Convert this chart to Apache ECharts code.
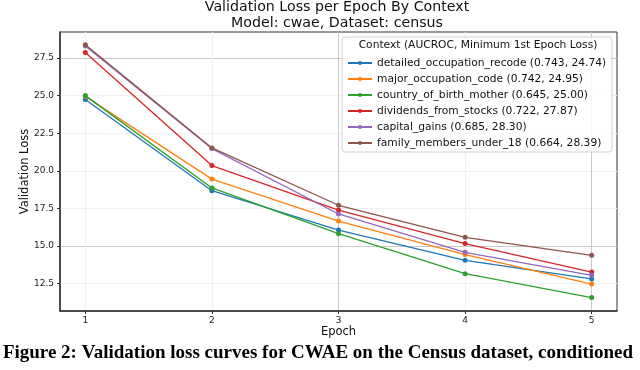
<!DOCTYPE html>
<html>
<head>
<meta charset="utf-8">
<script src="https://cdn.jsdelivr.net/npm/echarts@6/dist/echarts.min.js"></script>
<style>
  html, body { margin: 0; padding: 0; background: #fff; }
  #chart { width: 640px; height: 370px; }
</style>
</head>
<body>
<div id="chart"></div>
<script>
// epochs and per-context validation loss
const epochs = [1, 2, 3, 4, 5]
const contextNames = [
  'detailed_occupation_recode (0.743, 24.74)',
  'major_occupation_code (0.742, 24.95)',
  'country_of_birth_mother (0.645, 25.00)',
  'dividends_from_stocks (0.722, 27.87)',
  'capital_gains (0.685, 28.30)',
  'family_members_under_18 (0.664, 28.39)'
]
const detailedOccupation = [24.74, 18.68, 16.06, 14.05, 12.81]
const majorOccupation = [24.95, 19.45, 16.66, 14.43, 12.47]
const countryOfBirth = [25.00, 18.86, 15.82, 13.16, 11.57]
const dividends = [27.87, 20.35, 17.39, 15.16, 13.27]
const capitalGains = [28.30, 21.48, 17.13, 14.58, 13.05]
const familyMembers = [28.39, 21.52, 17.71, 15.58, 14.38]
const yTicks = [12.5, 15.0, 17.5, 20.0, 22.5, 25.0, 27.5]

const allSeries = [detailedOccupation, majorOccupation, countryOfBirth, dividends, capitalGains, familyMembers]
const colors = ['#1f77b4', '#ff7f0e', '#2ca02c', '#d62728', '#9467bd', '#8c564b']
const font = 'DejaVu Sans'

const chart = echarts.init(document.getElementById('chart'))
chart.setOption({
  backgroundColor: '#fff',
  animation: false,
  color: colors,
  textStyle: { fontFamily: font },
  title: {
    text: 'Validation Loss per Epoch By Context\nModel: cwae, Dataset: census',
    left: 337,
    textAlign: 'center',
    top: -1,
    padding: 0,
    textStyle: { fontFamily: font, fontSize: 14.2, fontWeight: 'normal', color: '#111', lineHeight: 16 }
  },
  grid: {
    left: 60, right: 23, top: 32, bottom: 59,
    show: true, borderColor: '#333', borderWidth: 1
  },
  xAxis: {
    type: 'value',
    min: 0.8,
    max: 5.2,
    name: 'Epoch',
    nameLocation: 'middle',
    nameGap: 15,
    nameMoveOverlap: false,
    nameTextStyle: { fontFamily: font, fontSize: 11.5, color: '#111' },
    axisLine: { lineStyle: { color: '#333', width: 1.5 } },
    axisTick: { customValues: epochs, length: 3, lineStyle: { color: '#333' } },
    axisLabel: { customValues: epochs, fontFamily: font, fontSize: 9, color: '#222', margin: 5 },
    splitLine: { show: true, lineStyle: { color: ['#f0f0f0', '#f0f0f0', '#c8c8c8', '#f0f0f0', '#c8c8c8'], width: 1 } }
  },
  yAxis: {
    type: 'value',
    min: 10.68,
    max: 29.23,
    name: 'Validation Loss',
    nameLocation: 'middle',
    nameGap: 29,
    nameMoveOverlap: false,
    nameTextStyle: { fontFamily: font, fontSize: 11.5, color: '#111' },
    axisLine: { show: true, lineStyle: { color: '#333', width: 1.5 } },
    axisTick: { show: true, customValues: yTicks, length: 3, lineStyle: { color: '#333' } },
    axisLabel: {
      customValues: yTicks, fontFamily: font, fontSize: 9, color: '#222', margin: 6,
      formatter: v => v.toFixed(1)
    },
    splitLine: { show: true, lineStyle: { color: ['#f0f0f0', '#c8c8c8', '#f0f0f0', '#f0f0f0', '#f0f0f0', '#f0f0f0', '#c8c8c8'], width: 1 } }
  },
  legend: {
    orient: 'vertical',
    left: 347,
    top: 57,
    z: 11,
    itemWidth: 24,
    itemHeight: 5,
    itemGap: 4,
    padding: 0,
    textStyle: { fontFamily: font, fontSize: 10.7, color: '#111', lineHeight: 12 },
    data: contextNames
  },
  graphic: [
    {
      type: 'rect',
      z: 10,
      shape: { x: 342, y: 37, width: 270, height: 115, r: 3 },
      style: { fill: 'rgba(255,255,255,0.85)', stroke: '#d0d0d0', lineWidth: 1 }
    },
    {
      type: 'text',
      z: 11,
      x: 478,
      y: 45,
      style: {
        text: 'Context (AUCROC, Minimum 1st Epoch Loss)',
        font: '10.7px "DejaVu Sans"',
        fill: '#111',
        align: 'center',
        verticalAlign: 'middle'
      }
    },
    {
      type: 'text',
      x: 318,
      y: 353,
      style: {
        text: 'Figure 2: Validation loss curves for CWAE on the Census dataset, conditioned',
        font: 'bold 19px "Liberation Serif"',
        fill: '#000',
        align: 'center',
        verticalAlign: 'middle'
      }
    }
  ],
  series: allSeries.map((vals, i) => ({
    name: contextNames[i],
    type: 'line',
    data: vals.map((v, j) => [epochs[j], v]),
    symbol: 'circle',
    symbolSize: 5,
    lineStyle: { width: 1.3 },
    z: 3 + i
  }))
})
</script>
</body>
</html>
